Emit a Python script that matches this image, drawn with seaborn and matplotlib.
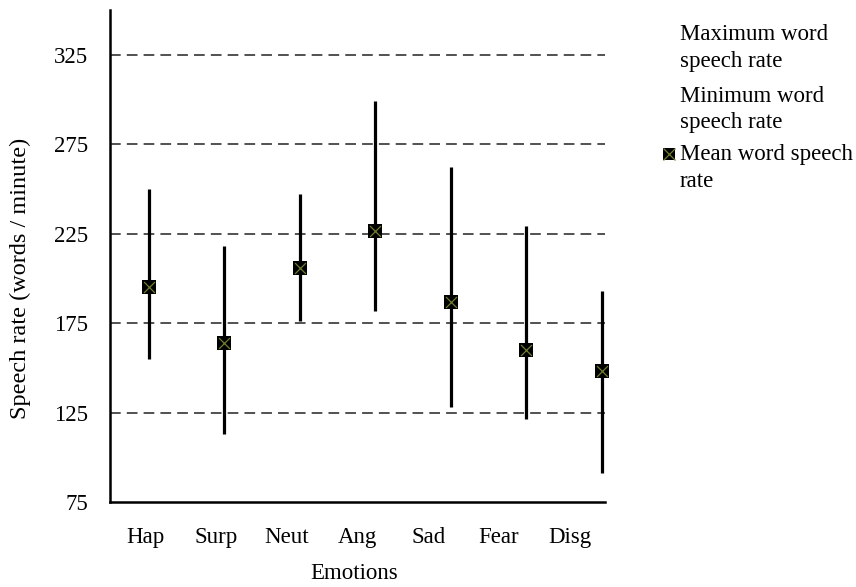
import matplotlib
matplotlib.use("Agg")
import matplotlib.pyplot as plt
from matplotlib.lines import Line2D
import numpy as np
import pandas as pd
import seaborn as sns

# Word speech rate per emotion (words / minute)
emotions = ["Hap", "Surp", "Neut", "Ang", "Sad", "Fear", "Disg"]
max_rate = [250, 218, 247, 299, 262, 229, 193]
min_rate = [155, 113, 176, 182, 128, 121.5, 91]
mean_rate = [195, 164, 206, 226.5, 187, 160, 148]
y_ticks = [75, 125, 175, 225, 275, 325]

df = pd.DataFrame({"emotion": emotions, "max": max_rate,
                   "min": min_rate, "mean": mean_rate})
df["pos"] = np.arange(len(df))

sns.set_style("white")
plt.rcParams["font.family"] = ["Liberation Serif", "DejaVu Serif"]
plt.rcParams["font.size"] = 16.5
for key in ["text.color", "axes.labelcolor", "xtick.color", "ytick.color"]:
    plt.rcParams[key] = "black"

fig = plt.figure(figsize=(8.56, 5.87), dpi=100)
ax = fig.add_axes([110 / 856, 1 - 502 / 587, 495 / 856, 492 / 587])

# high-low range lines
ax.vlines(df["pos"], df["min"], df["max"], color="black", lw=2.3,
          zorder=3, clip_on=False)

# mean markers: black square with an olive cross
sns.scatterplot(data=df, x="pos", y="mean", ax=ax, marker="s", s=88,
                color="black", edgecolor="black", linewidth=0, zorder=4,
                legend=False, clip_on=False)
sns.scatterplot(data=df, x="pos", y="mean", ax=ax, marker="x", s=62,
                color="#6f7f2e", linewidth=0.9, zorder=5, legend=False,
                clip_on=False)

# axes limits and grid
x_lo, x_hi = -0.512, 6.04
ax.set_xlim(x_lo, x_hi)
ax.set_ylim(75, 350)
for v in y_ticks[1:]:
    ax.axhline(v, color="#222222", lw=1.1, ls=(0, (7, 4)), zorder=1)

# category bins: tick marks at edges, labels at centres
n = len(emotions)
edges = np.linspace(x_lo, x_hi, n + 1)
centres = (edges[:-1] + edges[1:]) / 2
ax.set_xticks(centres)
ax.set_xticklabels(emotions)
ax.set_xticks(edges, minor=True)
ax.tick_params(axis="x", which="major", length=0, pad=18,
               labelcolor="black")
ax.tick_params(axis="x", which="minor", length=6, width=1.6,
               direction="out", color="black")

ax.set_yticks(y_ticks)
ax.tick_params(axis="y", which="major", length=6, width=1.6,
               direction="out", color="black", labelcolor="black", pad=10)

for side in ["top", "right"]:
    ax.spines[side].set_visible(False)
for side in ["left", "bottom"]:
    ax.spines[side].set_color("black")
    ax.spines[side].set_linewidth(1.8)

ax.set_xlabel("Emotions", fontsize=16.5, color="black")
ax.set_ylabel("Speech rate (words / minute)", fontsize=17.5, color="black")
ax.xaxis.set_label_coords(0.493, -0.124)
ax.yaxis.set_label_coords(-0.16, 0.455)

# legend
fs = 16.5
legend_lines = [
    (40, "Maximum word"), (67, "speech rate"),
    (102, "Minimum word"), (128, "speech rate"),
    (160, "Mean word speech"), (187, "rate"),
]
for y_px, txt in legend_lines:
    fig.text(680 / 856, 1 - y_px / 587, txt, fontsize=fs, va="baseline",
             color="black")
mx, my = 668.5 / 856, 1 - 153.5 / 587
fig.add_artist(Line2D([mx], [my], marker="s", markersize=9.3, color="black",
                      markeredgewidth=0, transform=fig.transFigure))
fig.add_artist(Line2D([mx], [my], marker="x", markersize=8, color="#6f7f2e",
                      markeredgewidth=0.9, transform=fig.transFigure))

fig.savefig("out.png", dpi=100)
